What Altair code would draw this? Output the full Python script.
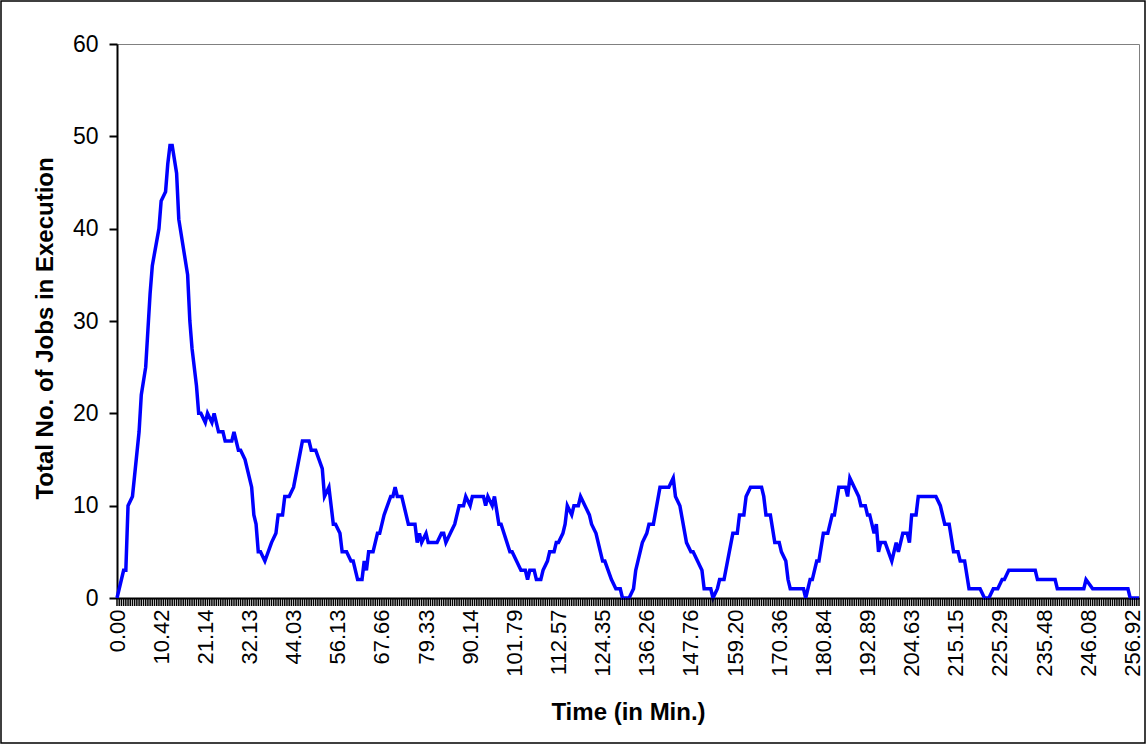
import altair as alt
import pandas as pd

# Category index (one category per sampled time step) and number of jobs in execution
cat_index = [
    0, 3, 4, 5, 7, 10, 11, 13, 14, 15, 16, 19, 20, 22, 23, 24, 25, 27, 28, 32,
    33, 34, 36, 37, 38, 40, 41, 43, 44, 46, 48, 49, 52, 53, 55, 56, 58, 61, 62, 63,
    64, 65, 67, 70, 72, 73, 75, 76, 78, 80,
    84, 87, 88, 90, 93, 94, 96, 98, 99, 101, 102, 104, 106, 107, 109, 111, 112, 113, 114, 116,
    118, 119, 121, 124, 125, 126, 127, 129, 132, 135, 136, 137, 138, 140, 141, 145, 147, 148, 149, 151,
    153, 155, 157, 158, 160, 161, 166, 167, 168, 170, 171, 173, 174, 178, 179, 181, 183, 185, 186, 187,
    189, 190, 192, 193, 195, 196, 198, 199, 200, 202, 203, 204, 206, 207, 209, 210, 212, 214, 215, 217,
    218, 219, 220, 221, 224, 226, 228, 229, 232, 234, 235, 238, 240, 241, 243, 246, 250, 252, 253, 255,
    258, 260, 261, 263, 265, 266, 269, 270, 272, 273, 275, 279, 281, 282, 284, 285, 287, 292, 293, 294,
    296, 298, 300, 301, 303, 304, 305, 311, 312, 314, 315, 317, 318, 320, 322, 324, 325, 327, 330, 331,
    332, 334, 336, 337, 339, 340, 341, 343, 344, 345, 346, 348, 351, 353, 354, 356, 358, 359, 360, 362,
    363, 370, 371, 373, 375, 377, 379, 381, 382, 384, 386, 391, 393, 395, 397, 399, 401, 402, 404, 416,
    417, 425, 426, 438, 439, 442, 458, 459, 463,
]
jobs = [
    0, 3, 3, 10, 11, 18, 22, 25, 29, 33, 36, 40, 43, 44, 47, 49, 49, 46, 41, 35,
    30, 27, 23, 20, 20, 19, 20, 19, 20, 18, 18, 17, 17, 18, 16, 16, 15, 12, 9, 8,
    5, 5, 4, 6, 7, 9, 9, 11, 11, 12,
    17, 17, 16, 16, 14, 11, 12, 8, 8, 7, 5, 5, 4, 4, 2, 2, 4, 3, 5, 5,
    7, 7, 9, 11, 11, 12, 11, 11, 8, 8, 6, 7, 6, 7, 6, 6, 7, 7, 6, 7,
    8, 10, 10, 11, 10, 11, 11, 10, 11, 10, 11, 8, 8, 5, 5, 4, 3, 3, 2, 3,
    3, 2, 2, 3, 4, 5, 5, 6, 6, 7, 8, 10, 9, 10, 10, 11, 10, 9, 8, 7,
    6, 5, 4, 4, 2, 1, 1, 0, 0, 1, 3, 6, 7, 8, 8, 12, 12, 13, 11, 10,
    6, 5, 5, 4, 3, 1, 1, 0, 1, 2, 2, 7, 7, 9, 9, 11, 12, 12, 11, 9,
    9, 6, 6, 5, 4, 2, 1, 1, 0, 2, 2, 4, 4, 7, 7, 9, 9, 12, 12, 11,
    13, 12, 11, 10, 10, 9, 9, 7, 8, 5, 6, 6, 4, 6, 5, 7, 7, 6, 9, 9,
    11, 11, 11, 10, 8, 8, 5, 5, 4, 4, 1, 1, 0, 0, 1, 1, 2, 2, 3, 3,
    2, 2, 1, 1, 2, 1, 1, 0, 0,
]
assert len(cat_index) == len(jobs)

# Category-axis labels (every 20th category)
time_labels = [
    "0.00", "10.42", "21.14", "32.13", "44.03", "56.13", "67.66", "79.33",
    "90.14", "101.79", "112.57", "124.35", "136.26", "147.76", "159.20",
    "170.36", "180.84", "192.89", "204.63", "215.15", "225.29", "235.48",
    "246.08", "256.92",
]
label_step = 20
n_last = 463
y_ticks = [0, 10, 20, 30, 40, 50, 60]

df = pd.DataFrame({"idx": cat_index, "jobs": jobs, "order": list(range(len(jobs)))})
tick_df = pd.DataFrame({"idx": list(range(0, n_last + 1))})
label_positions = [i * label_step for i in range(len(time_labels))]

label_array = "[" + ",".join("'" + t + "'" for t in time_labels) + "]"
label_expr = f"{label_array}[round(datum.value / {label_step})]"

FONT = "Liberation Sans"

W, H = 1022, 554
PAD = {"left": 117, "top": 44, "right": 8, "bottom": 147}
TICK_LEN = 8

x_scale = alt.Scale(domain=[0, n_last], nice=False, zero=False)

# category tick marks hanging below the x axis (one per category)
cat_ticks = alt.Chart(tick_df).mark_rule(color="black", strokeWidth=1.5).encode(
    x=alt.X("idx:Q", scale=x_scale),
    y=alt.value(H),
    y2=alt.value(H + TICK_LEN),
)

line = alt.Chart(df).mark_line(color="#0000FF", strokeWidth=3.5).encode(
    x=alt.X(
        "idx:Q",
        scale=x_scale,
        axis=alt.Axis(
            values=label_positions,
            labelExpr=label_expr,
            labelAngle=270,
            labelAlign="right",
            labelBaseline="middle",
            labelPadding=3 + TICK_LEN,
            labelOverlap=False,
            labelFlush=False,
            labelBound=False,
            labelFont=FONT,
            labelFontSize=22,
            labelColor="black",
            ticks=False,
            domainColor="black",
            domainWidth=2,
            grid=False,
            title="Time (in Min.)",
            titleFont=FONT,
            titleFontSize=24,
            titleFontWeight="bold",
            titleColor="black",
            titleX=W / 2,
            titleY=114,
            titleAlign="center",
            titleBaseline="middle",
        ),
    ),
    y=alt.Y(
        "jobs:Q",
        scale=alt.Scale(domain=[0, 60], nice=False, zero=True),
        axis=alt.Axis(
            values=y_ticks,
            labelFont=FONT,
            labelFontSize=23,
            labelColor="black",
            labelPadding=11,
            tickSize=8,
            tickWidth=2,
            tickColor="black",
            domainColor="black",
            domainWidth=2,
            grid=False,
            title="Total No. of Jobs in Execution",
            titleFont=FONT,
            titleFontSize=24,
            titleFontWeight="bold",
            titleColor="black",
            titleAngle=270,
            titleX=-72,
            titleY=H / 2 + 7,
            titleAlign="center",
            titleBaseline="middle",
        ),
    ),
    order="order:Q",
)

border = alt.Chart(alt.Data(values=[{"a": 1}])).mark_rect(
    fillOpacity=0, stroke="black", strokeWidth=1.5
).encode(
    x=alt.value(-116),
    x2=alt.value(W + PAD["right"] - 2),
    y=alt.value(-43),
    y2=alt.value(H + PAD["bottom"] - 2),
)

chart = alt.layer(line, cat_ticks, border).properties(
    width=W,
    height=H,
    autosize=alt.AutoSizeParams(type="none"),
    padding=PAD,
    background="white",
).configure_view(stroke="#808080", strokeWidth=1)

chart.save("out.html", embed_options={"renderer": "svg", "actions": False})
